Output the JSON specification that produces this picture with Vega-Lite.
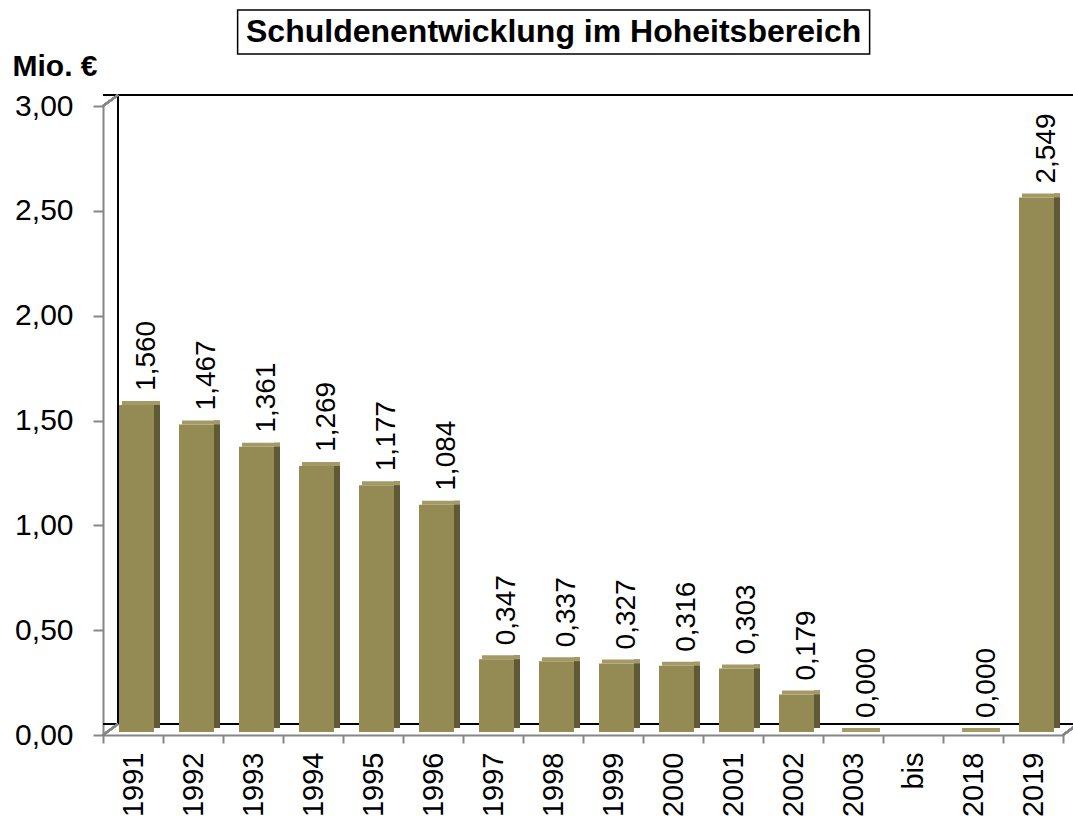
{
  "$schema": "https://vega.github.io/schema/vega-lite/v6.json",
  "padding": {"left": 12, "top": 9, "right": 0, "bottom": 0},
  "background": "white",
  "config": {
    "locale": {"number": {"decimal": ",", "thousands": ".", "grouping": [3], "currency": ["", " €"]}},
    "font": "Liberation Sans",
    "view": {"stroke": null}
  },
  "spacing": -4,
  "center": true,
  "vconcat": [
    {
      "width": 632,
      "height": 44,
      "view": {"stroke": "black", "strokeWidth": 1.5},
      "data": {"values": [{"titel": "Schuldenentwicklung im Hoheitsbereich"}]},
      "mark": {"type": "text", "align": "center", "baseline": "middle", "fontSize": 32, "fontWeight": "bold", "font": "Liberation Sans", "color": "black"},
      "encoding": {
        "x": {"datum": 0.5, "type": "quantitative", "scale": {"domain": [0, 1]}, "axis": null},
        "y": {"datum": 0.5, "type": "quantitative", "scale": {"domain": [0, 1]},
          "axis": {"orient": "right", "title": "x", "titleColor": "transparent", "titleFontSize": 10, "titlePadding": 64, "labels": false, "ticks": false, "domain": false, "grid": false}},
        "text": {"field": "titel"}
      }
    },
    {
      "width": 960,
      "height": 629,
      "data": {"values": [
        {"jahr": "1991", "wert": 1.560},
        {"jahr": "1992", "wert": 1.467},
        {"jahr": "1993", "wert": 1.361},
        {"jahr": "1994", "wert": 1.269},
        {"jahr": "1995", "wert": 1.177},
        {"jahr": "1996", "wert": 1.084},
        {"jahr": "1997", "wert": 0.347},
        {"jahr": "1998", "wert": 0.337},
        {"jahr": "1999", "wert": 0.327},
        {"jahr": "2000", "wert": 0.316},
        {"jahr": "2001", "wert": 0.303},
        {"jahr": "2002", "wert": 0.179},
        {"jahr": "2003", "wert": 0.000},
        {"jahr": "bis", "wert": null},
        {"jahr": "2018", "wert": 0.000},
        {"jahr": "2019", "wert": 2.549}
      ]},
      "layer": [
        {
          "mark": {"type": "rule", "color": "black", "strokeWidth": 2, "xOffset": 15, "x2Offset": 15, "yOffset": -11},
          "encoding": {"y": {"datum": 3, "type": "quantitative"}}
        },
        {
          "mark": {"type": "rule", "color": "black", "strokeWidth": 2, "xOffset": 15, "x2Offset": 15, "yOffset": -11},
          "encoding": {"y": {"datum": 0, "type": "quantitative"}}
        },
        {
          "mark": {"type": "rule", "color": "black", "strokeWidth": 2, "xOffset": 15, "yOffset": -11, "y2Offset": -11},
          "encoding": {
            "x": {"datum": "1991", "bandPosition": 0},
            "y": {"datum": 0, "type": "quantitative"},
            "y2": {"datum": 3}
          }
        },
        {
          "mark": {"type": "bar", "color": "#948A54", "width": 35, "xOffset": 3.5, "yOffset": -3, "y2Offset": -3},
          "encoding": {
            "x": {"field": "jahr", "type": "nominal",
              "scale": {"domain": ["1991","1992","1993","1994","1995","1996","1997","1998","1999","2000","2001","2002","2003","bis","2018","2019"], "paddingInner": 0, "paddingOuter": 0},
              "axis": {"title": null, "labelAngle": 270, "labelFontSize": 29, "labelColor": "black", "tickBand": "extent", "tickSize": 8, "tickColor": "#868686", "tickWidth": 2, "domainColor": "#868686", "domainWidth": 2, "labelPadding": 9}},
            "y": {"field": "wert", "type": "quantitative",
              "scale": {"domain": [0, 3], "nice": false},
              "axis": {"values": [0, 0.5, 1, 1.5, 2, 2.5, 3], "format": ".2f", "grid": false, "domainColor": "#868686", "domainWidth": 2, "tickColor": "#868686", "tickWidth": 2, "tickSize": 10, "labelFontSize": 30, "labelPadding": 20, "labelColor": "black",
                "title": "Mio. €", "titleAngle": 0, "titleAlign": "left", "titleBaseline": "alphabetic", "titleX": -91, "titleY": -31, "titleFontSize": 30, "titleFontWeight": "bold", "titleColor": "black"}}
          }
        },
        {
          "mark": {"type": "bar", "color": "#5F5935", "width": 6, "xOffset": 24, "yOffset": -7, "y2Offset": -7},
          "encoding": {
            "x": {"field": "jahr", "type": "nominal"},
            "y": {"field": "wert", "type": "quantitative"}
          }
        },
        {
          "mark": {"type": "bar", "color": "#A39A66", "width": 38, "xOffset": 8, "yOffset": -7, "y2Offset": -3},
          "encoding": {
            "x": {"field": "jahr", "type": "nominal"},
            "y": {"field": "wert", "type": "quantitative"},
            "y2": {"field": "wert"}
          }
        },
        {
          "mark": {"type": "rule", "color": "#868686", "strokeWidth": 2, "x2Offset": 15, "y2Offset": -11},
          "encoding": {
            "x": {"datum": "1991", "bandPosition": 0},
            "x2": {"datum": "1991", "bandPosition": 0},
            "y": {"datum": 0, "type": "quantitative"},
            "y2": {"datum": 0}
          }
        },
        {
          "mark": {"type": "rule", "color": "#868686", "strokeWidth": 2, "x2Offset": 15, "y2Offset": -11},
          "encoding": {
            "x": {"datum": "1991", "bandPosition": 0},
            "x2": {"datum": "1991", "bandPosition": 0},
            "y": {"datum": 3, "type": "quantitative"},
            "y2": {"datum": 3}
          }
        },
        {
          "mark": {"type": "rule", "color": "#868686", "strokeWidth": 2, "x2Offset": 15, "y2Offset": -11},
          "encoding": {
            "x": {"datum": "2019", "bandPosition": 1},
            "x2": {"datum": "2019", "bandPosition": 1},
            "y": {"datum": 0, "type": "quantitative"},
            "y2": {"datum": 0}
          }
        },
        {
          "mark": {"type": "text", "angle": 270, "align": "left", "baseline": "middle", "dx": 17, "dy": 14, "fontSize": 28, "color": "black"},
          "encoding": {
            "x": {"field": "jahr", "type": "nominal"},
            "y": {"field": "wert", "type": "quantitative"},
            "text": {"field": "wert", "type": "quantitative", "format": ".3f"}
          }
        }
      ]
    }
  ]
}
